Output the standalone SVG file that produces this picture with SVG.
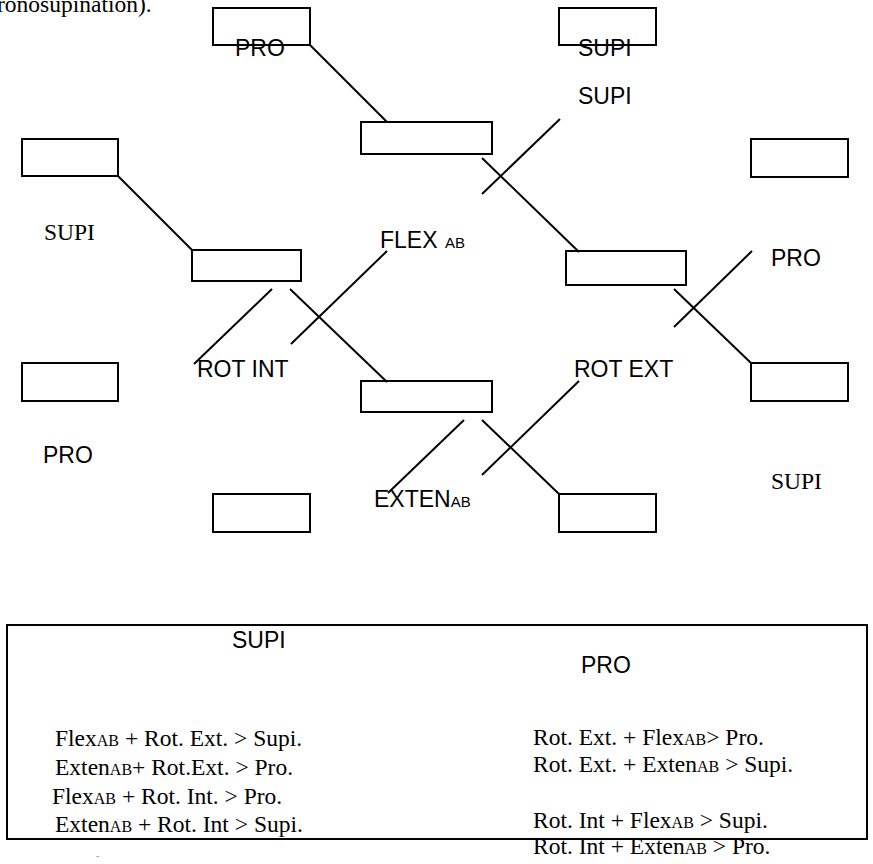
<svg xmlns="http://www.w3.org/2000/svg" width="873" height="864" viewBox="0 0 873 864">
<style>
.box{fill:none;stroke:#000;stroke-width:2}
.ln{stroke:#000;stroke-width:2;fill:none}
.sans{font-family:"Liberation Sans",Arial,sans-serif;font-size:23px;fill:#000}
.serif{font-family:"Liberation Serif","Times New Roman",serif;font-size:23.5px;fill:#000}
.sm{font-size:15px}
.ssm{font-size:16px}
</style>
<rect width="873" height="864" fill="#fff"/>
<text class="serif" x="-3" y="12" font-size="26">ronosupination).</text>
<g id="connectors">
<line class="ln" x1="310" y1="45" x2="387" y2="122"/>
<line class="ln" x1="118" y1="176" x2="192" y2="250"/>
<line class="ln" x1="482" y1="158" x2="579" y2="252"/>
<line class="ln" x1="560" y1="119" x2="482" y2="194"/>
<line class="ln" x1="272" y1="289" x2="194" y2="364"/>
<line class="ln" x1="290" y1="289" x2="387" y2="382"/>
<line class="ln" x1="387" y1="251" x2="291" y2="344"/>
<line class="ln" x1="674" y1="289" x2="751" y2="363"/>
<line class="ln" x1="752" y1="251" x2="674" y2="327"/>
<line class="ln" x1="464" y1="420" x2="388" y2="493"/>
<line class="ln" x1="482" y1="420" x2="559" y2="494"/>
<line class="ln" x1="579" y1="381" x2="482" y2="475"/>
</g>
<g id="n1"><rect class="box" x="213" y="8" width="97" height="37"/></g>
<g id="n2"><rect class="box" x="559" y="8" width="97" height="37"/></g>
<g id="n3"><rect class="box" x="361" y="122" width="131" height="32"/></g>
<g id="n4"><rect class="box" x="22" y="139" width="96" height="37"/></g>
<g id="n5"><rect class="box" x="751" y="139" width="97" height="38"/></g>
<g id="n6"><rect class="box" x="192" y="250" width="109" height="31"/></g>
<g id="n7"><rect class="box" x="566" y="251" width="120" height="34"/></g>
<g id="n8"><rect class="box" x="22" y="363" width="96" height="38"/></g>
<g id="n9"><rect class="box" x="361" y="381" width="131" height="31"/></g>
<g id="n10"><rect class="box" x="751" y="363" width="97" height="38"/></g>
<g id="n11"><rect class="box" x="213" y="494" width="97" height="38"/></g>
<g id="n12"><rect class="box" x="559" y="494" width="97" height="38"/></g>
<g id="labels">
<text class="sans" x="235" y="56">PRO</text>
<text class="sans" x="578" y="56">SUPI</text>
<text class="sans" x="578" y="104">SUPI</text>
<text class="serif" x="44" y="240">SUPI</text>
<text class="sans" x="380" y="248">FLEX<tspan class="sm" x="445">AB</tspan></text>
<text class="sans" x="771" y="266">PRO</text>
<text class="sans" x="197" y="377">ROT INT</text>
<text class="sans" x="574" y="377">ROT EXT</text>
<text class="sans" x="43" y="463">PRO</text>
<text class="sans" x="374" y="507">EXTEN<tspan class="sm">AB</tspan></text>
<text class="serif" x="771" y="489">SUPI</text>
</g>
<g id="legend">
<rect class="box" x="7" y="625" width="860" height="214"/>
<text class="sans" x="232" y="648">SUPI</text>
<text class="sans" x="581" y="673">PRO</text>
<text class="serif" x="55" y="746">Flex<tspan class="ssm">AB</tspan> + Rot. Ext. &gt; Supi.</text>
<text class="serif" x="55" y="775">Exten<tspan class="ssm">AB</tspan>+ Rot.Ext. &gt; Pro.</text>
<text class="serif" x="52" y="804">Flex<tspan class="ssm">AB</tspan> + Rot. Int. &gt; Pro.</text>
<text class="serif" x="55" y="832">Exten<tspan class="ssm">AB</tspan> + Rot. Int &gt; Supi.</text>
<text class="serif" x="533" y="745">Rot. Ext. + Flex<tspan class="ssm">AB</tspan>&gt; Pro.</text>
<text class="serif" x="533" y="772">Rot. Ext. + Exten<tspan class="ssm">AB</tspan> &gt; Supi.</text>
<text class="serif" x="533" y="828">Rot. Int + Flex<tspan class="ssm">AB</tspan> &gt; Supi.</text>
<text class="serif" x="533" y="854">Rot. Int + Exten<tspan class="ssm">AB</tspan> &gt; Pro.</text>
<text x="96" y="859" font-family="Liberation Sans,sans-serif" font-size="10" fill="#999">-</text>
</g>
</svg>
